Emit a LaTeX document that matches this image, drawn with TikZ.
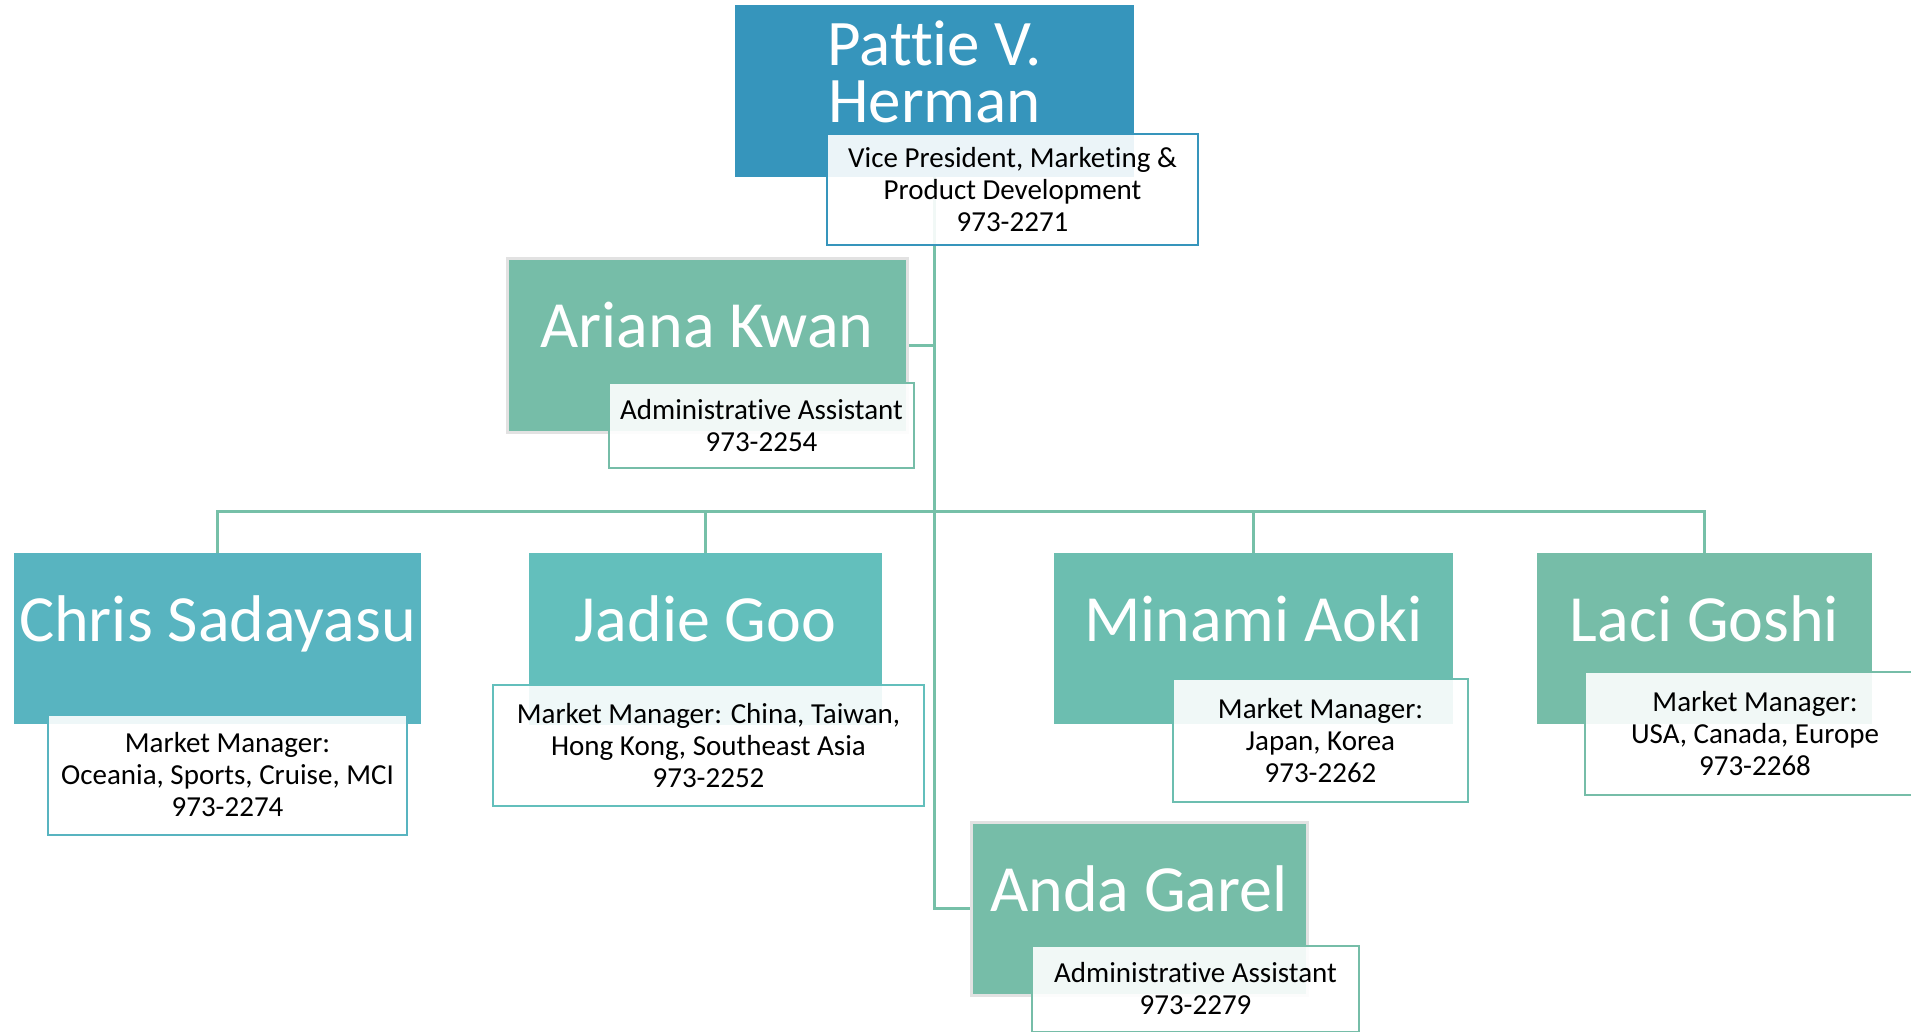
\documentclass[tikz,border=0pt]{standalone}
\usepackage{fontspec}
\setmainfont{Carlito}[Ligatures=NoCommon]
\usepackage{tikz}
\usetikzlibrary{backgrounds}
\definecolor{vpblue}{RGB}{54,149,188}
\definecolor{asstgreen}{RGB}{118,189,168}
\definecolor{christeal}{RGB}{88,180,192}
\definecolor{jadieteal}{RGB}{99,191,188}
\definecolor{minamigreen}{RGB}{108,190,176}
\definecolor{linkgreen}{RGB}{118,192,168}
\definecolor{edgegrey}{RGB}{226,226,226}

\begin{document}
\begin{tikzpicture}[
    x=1pt, y=-1pt,
    namebox/.style={rectangle, inner sep=0pt, outer sep=0pt, text=white, align=center,
      font=\fontsize{66}{57}\selectfont, text height=46pt, text depth=41pt},
    rolebox/.style={rectangle, draw=#1, line width=2.6pt, fill=white, fill opacity=0.9,
      text opacity=1, text=black, inner sep=0pt, outer sep=0pt, align=center,
      font=\fontsize{29}{32}\selectfont},
    asst/.style={draw=edgegrey, line width=3pt},
    link/.style={draw=linkgreen, line width=3pt}
]
\useasboundingbox (0,0) rectangle (1911,1031);
\clip (0,0) rectangle (1911,1031);

% top
\node[namebox, fill=vpblue, minimum width=399pt, minimum height=172pt,
  font=\fontsize{65}{57}\selectfont, text height=103pt, text depth=41pt] (VP) at (934.5,91) {Pattie V.\\Herman};
\node[rolebox=vpblue, minimum width=371pt, minimum height=111pt] (VPr) at (1012.5,189.5)
  {Vice President, Marketing \&\\Product Development\\973-2271};

% assistants
\node[namebox, asst, fill=asstgreen, minimum width=400pt, minimum height=174pt] (AK) at (707,345) {Ariana Kwan};
\node[rolebox=asstgreen, minimum width=305pt, minimum height=85pt] (AKr) at (761.5,425.5)
  {Administrative Assistant\\973-2254};
\node[namebox, asst, fill=asstgreen, minimum width=336pt, minimum height=173pt] (AG) at (1139,908.5) {Anda Garel};
\node[rolebox=asstgreen, minimum width=327pt, minimum height=86pt] (AGr) at (1195.5,989)
  {Administrative Assistant\\973-2279};

% market managers
\node[namebox, fill=christeal, minimum width=407pt, minimum height=171pt] (CS) at (217.5,638.5) {Chris Sadayasu};
\node[rolebox=christeal, minimum width=359pt, minimum height=120pt] (CSr) at (227.5,775)
  {Market Manager:\\Oceania, Sports, Cruise, MCI\\973-2274};
\node[namebox, fill=jadieteal, minimum width=353pt, minimum height=172pt] (JG) at (705.5,639) {Jadie Goo};
\node[rolebox=jadieteal, minimum width=431pt, minimum height=121pt] (JGr) at (708.5,745.5)
  {Market Manager: China, Taiwan,\\Hong Kong, Southeast Asia\\973-2252};
\node[namebox, fill=minamigreen, minimum width=399pt, minimum height=171pt] (MA) at (1253.5,638.5) {Minami Aoki};
\node[rolebox=minamigreen, minimum width=295pt, minimum height=123pt] (MAr) at (1320.5,740.5)
  {Market Manager:\\Japan, Korea\\973-2262};
\node[namebox, fill=asstgreen, minimum width=335pt, minimum height=171pt] (LG) at (1704.5,638.5) {Laci Goshi};
\node[rolebox=asstgreen, minimum width=340pt, minimum height=123pt] (LGr) at (1755,733.5)
  {Market Manager:\\USA, Canada, Europe\\973-2268};

% connectors
\begin{scope}[on background layer]
\coordinate (bus) at (934.5,511);
\draw[link] (VP.south) |- (AG.west);
\draw[link] (AK.east) -- (AK.east -| VP.south);
\draw[link] (CS.north) |- (bus);
\draw[link] (JG.north) |- (bus);
\draw[link] (MA.north) |- (bus);
\draw[link] (LG.north) |- (bus);
\end{scope}
\end{tikzpicture}
\end{document}
